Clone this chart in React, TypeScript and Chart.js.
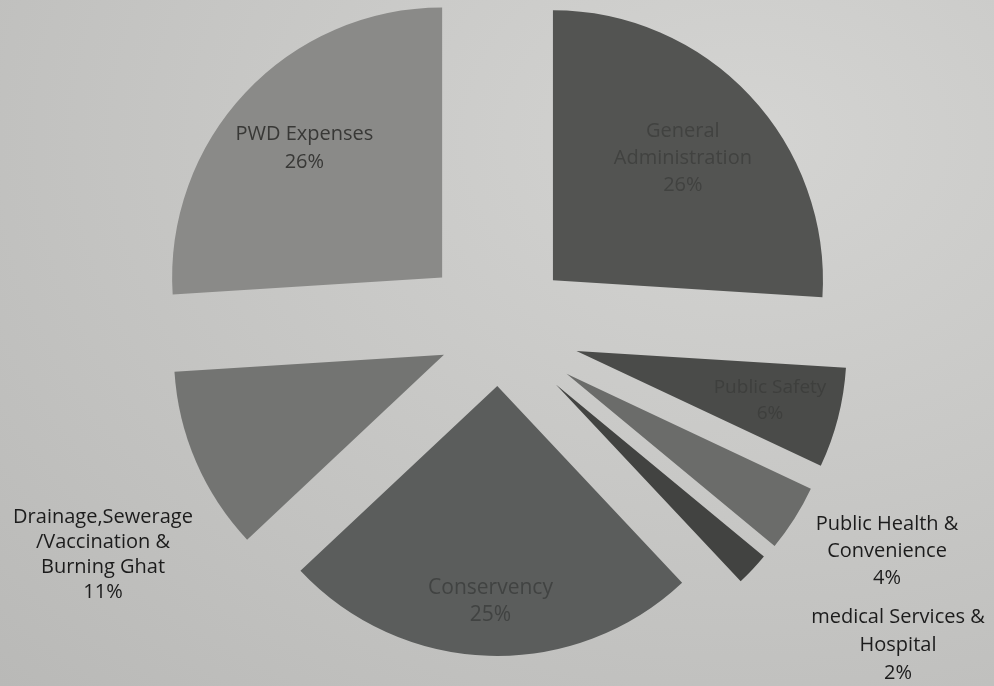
import React, { useEffect, useRef } from "react";
import { Chart, registerables } from "chart.js";

Chart.register(...registerables);

const categories = [
  "General Administration",
  "Public Safety",
  "Public Health & Convenience",
  "medical Services & Hospital",
  "Conservency",
  "Drainage,Sewerage /Vaccination & Burning Ghat",
  "PWD Expenses",
];
const shares = [26, 6, 4, 2, 25, 11, 26];
const sliceColors = ["#535452", "#4a4b49", "#6b6c6a", "#424341", "#5b5d5c", "#737472", "#8a8a88"];
// explode distance of each slice, px
const explode = [74, 80, 80, 78, 55, 60, 78];
const PIE_RADIUS = 270;

const labelLines = [
  ["General", "Administration", "26%"],
  ["Public Safety", "6%"],
  ["Public Health &", "Convenience", "4%"],
  ["medical Services &", "Hospital", "2%"],
  ["Conservency", "25%"],
  ["Drainage,Sewerage", "/Vaccination &", "Burning Ghat", "11%"],
  ["PWD Expenses", "26%"],
];
const labelPlacement: any[] = [
  { inside: true, frac: 0.66, color: "#414240", size: 20, gap: 27 },
  { inside: true, frac: 0.74, color: "#3e3f3d", size: 19, gap: 26 },
  { inside: false, dx: 388, dy: 220, color: "#1c1c1c", size: 20, gap: 27 },
  { inside: false, dx: 399, dy: 314, color: "#1c1c1c", size: 20, gap: 28 },
  { inside: true, frac: 0.8, color: "#414342", size: 21, gap: 27 },
  { inside: false, dx: -396, dy: 224, color: "#1c1c1c", size: 20, gap: 25 },
  { inside: true, frac: 0.7, color: "#383836", size: 20, gap: 28 },
];

function pieCenter(chart: any) {
  const a = chart.chartArea;
  return { x: (a.left + a.right) / 2, y: (a.top + a.bottom) / 2 };
}

// explode slices: move each arc's centre outward along its mid-angle
const explodePlugin = {
  id: "explodeSlices",
  beforeDatasetsDraw(chart: any) {
    const c = pieCenter(chart);
    const meta = chart.getDatasetMeta(0);
    meta.data.forEach((arc: any, i: number) => {
      const mid = (arc.startAngle + arc.endAngle) / 2;
      arc.x = c.x + Math.cos(mid) * explode[i];
      arc.y = c.y + Math.sin(mid) * explode[i];
    });
  },
};

const labelPlugin = {
  id: "sliceLabels",
  afterDatasetsDraw(chart: any) {
    const ctx = chart.ctx;
    const c = pieCenter(chart);
    const meta = chart.getDatasetMeta(0);
    meta.data.forEach((arc: any, i: number) => {
      const p = labelPlacement[i];
      const lines = labelLines[i];
      let cx: number, cy: number;
      if (p.inside) {
        const mid = (arc.startAngle + arc.endAngle) / 2;
        const d = explode[i] + PIE_RADIUS * p.frac;
        cx = c.x + Math.cos(mid) * d;
        cy = c.y + Math.sin(mid) * d;
      } else {
        cx = c.x + p.dx;
        cy = c.y + p.dy;
      }
      const gap = p.gap || 26;
      ctx.save();
      ctx.fillStyle = p.color;
      ctx.font = `${p.size}px "Open Sans", "Noto Sans", sans-serif`;
      ctx.textAlign = "center";
      ctx.textBaseline = "middle";
      const startY = cy - ((lines.length - 1) * gap) / 2;
      lines.forEach((ln: string, k: number) => ctx.fillText(ln, cx, startY + k * gap));
      ctx.restore();
    });
  },
};

export default function App() {
  const ref = useRef<HTMLCanvasElement>(null);
  useEffect(() => {
    if (!ref.current) return;
    const chart = new Chart(ref.current, {
      type: "pie",
      data: {
        labels: categories,
        datasets: [
          {
            data: shares,
            backgroundColor: sliceColors,
            borderWidth: 0,
          },
        ],
      },
      options: {
        animation: false,
        responsive: false,
        events: [],
        radius: PIE_RADIUS,
        layout: { padding: { left: 4, right: 0, top: 0, bottom: 24 } },
        plugins: {
          legend: { display: false },
          tooltip: { enabled: false },
        },
      } as any,
      plugins: [explodePlugin, labelPlugin],
    });
    return () => chart.destroy();
  }, []);
  return (
    <div
      style={{
        position: "fixed",
        left: 0,
        top: 0,
        width: 994,
        height: 686,
        background:
          "radial-gradient(ellipse at 75% 20%, #d4d4d2 0%, #c8c8c6 45%, #b9b9b7 100%)",
      }}
    >
      <canvas ref={ref} width={994} height={686} />
    </div>
  );
}
